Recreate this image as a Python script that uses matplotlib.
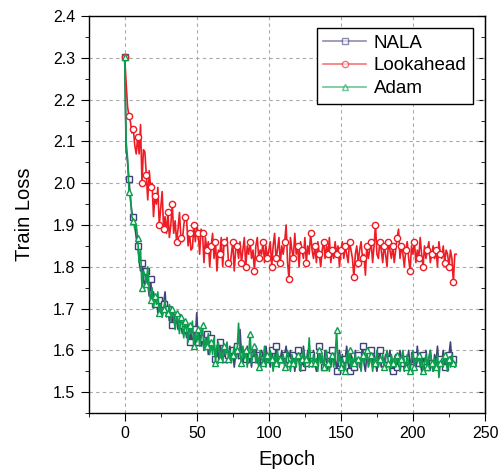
import matplotlib
matplotlib.use("Agg")
import matplotlib.pyplot as plt
from matplotlib.ticker import MultipleLocator

plt.rcParams["font.family"] = ["Liberation Sans", "DejaVu Sans"]

# train loss per epoch (epochs 0..230)
epochs = list(range(231))

nala = [
    2.302, 2.08, 2.05, 2.01, 1.96, 1.93, 1.92, 1.90, 1.87, 1.85,
    1.82, 1.79, 1.81, 1.77, 1.75, 1.79, 1.76, 1.73, 1.77, 1.72,
    1.74, 1.71, 1.73, 1.69, 1.72, 1.70, 1.68, 1.71, 1.74, 1.69,
    1.70, 1.67, 1.70, 1.66, 1.69, 1.66, 1.68, 1.65, 1.67, 1.66,
    1.64, 1.67, 1.65, 1.63, 1.66, 1.62, 1.64, 1.61, 1.65, 1.63,
    1.69, 1.62, 1.64, 1.61, 1.63, 1.60, 1.62, 1.64, 1.59, 1.61,
    1.63, 1.60, 1.62, 1.58, 1.61, 1.57, 1.62, 1.59, 1.61, 1.58,
    1.60, 1.57, 1.59, 1.61, 1.58, 1.60, 1.56, 1.59, 1.61, 1.58,
    1.65, 1.59, 1.57, 1.60, 1.58, 1.61, 1.57, 1.59, 1.56, 1.60,
    1.58, 1.61, 1.57, 1.59, 1.56, 1.60, 1.58, 1.57, 1.61, 1.58,
    1.59, 1.56, 1.60, 1.58, 1.57, 1.61, 1.59, 1.56, 1.58, 1.60,
    1.57, 1.59, 1.61, 1.56, 1.58, 1.60, 1.57, 1.59, 1.55, 1.58,
    1.60, 1.57, 1.59, 1.56, 1.61, 1.58, 1.57, 1.60, 1.56, 1.59,
    1.58, 1.60, 1.57, 1.55, 1.59, 1.61, 1.57, 1.58, 1.56, 1.60,
    1.57, 1.59, 1.58, 1.56, 1.60, 1.57, 1.59, 1.55, 1.58, 1.60,
    1.57, 1.59, 1.56, 1.58, 1.61, 1.57, 1.55, 1.59, 1.58, 1.56,
    1.60, 1.57, 1.59, 1.56, 1.58, 1.61, 1.57, 1.55, 1.59, 1.57,
    1.58, 1.60, 1.56, 1.59, 1.57, 1.55, 1.58, 1.60, 1.56, 1.58,
    1.57, 1.59, 1.56, 1.58, 1.60, 1.57, 1.55, 1.58, 1.59, 1.56,
    1.58, 1.60, 1.57, 1.59, 1.55, 1.58, 1.57, 1.60, 1.56, 1.58,
    1.57, 1.59, 1.56, 1.61, 1.57, 1.58, 1.55, 1.59, 1.57, 1.60,
    1.56, 1.58, 1.60, 1.57, 1.55, 1.59, 1.57, 1.61, 1.56, 1.58,
    1.57, 1.60, 1.56, 1.58, 1.55, 1.59, 1.62, 1.57, 1.58, 1.56,
    1.57,
]

lookahead = [
    2.302, 2.24, 2.183, 2.16, 2.147, 2.12, 2.13, 2.09, 2.07, 2.11,
    2.07, 2.14, 2.00, 2.08, 2.075, 2.02, 1.96, 2.03, 1.99, 2.00,
    1.92, 1.97, 1.95, 1.99, 1.90, 1.94, 1.98, 1.89, 1.92, 1.88,
    1.93, 1.87, 1.90, 1.95, 1.88, 1.91, 1.86, 1.89, 1.93, 1.87,
    1.86, 1.90, 1.92, 1.91, 1.85, 1.88, 1.84, 1.845, 1.90, 1.86,
    1.90, 1.88, 1.83, 1.89, 1.88, 1.81, 1.87, 1.84, 1.86, 1.80,
    1.85, 1.88, 1.82, 1.86, 1.79, 1.84, 1.83, 1.87, 1.80, 1.86,
    1.85, 1.87, 1.81, 1.80, 1.83, 1.86, 1.79, 1.84, 1.85, 1.82,
    1.86, 1.81, 1.84, 1.87, 1.80, 1.85, 1.83, 1.86, 1.82, 1.84,
    1.79, 1.85, 1.87, 1.82, 1.84, 1.83, 1.86, 1.81, 1.85, 1.82,
    1.84, 1.86, 1.80, 1.85, 1.88, 1.82, 1.84, 1.87, 1.81, 1.85,
    1.83, 1.86, 1.90, 1.81, 1.77, 1.87, 1.84, 1.82, 1.88, 1.83,
    1.85, 1.80, 1.86, 1.84, 1.82, 1.87, 1.81, 1.85, 1.83, 1.88,
    1.84, 1.82, 1.85, 1.81, 1.86, 1.83, 1.80, 1.84, 1.86, 1.82,
    1.85, 1.83, 1.87, 1.81, 1.84, 1.82, 1.86, 1.83, 1.85, 1.80,
    1.84, 1.86, 1.82, 1.85, 1.83, 1.81, 1.86, 1.84, 1.82, 1.775,
    1.83, 1.85, 1.81, 1.84, 1.86, 1.82, 1.83, 1.78, 1.85, 1.82,
    1.84, 1.86, 1.81, 1.85, 1.90, 1.83, 1.82, 1.86, 1.84, 1.81,
    1.85, 1.83, 1.80, 1.86, 1.84, 1.82, 1.85, 1.81, 1.84, 1.87,
    1.89, 1.82, 1.85, 1.83, 1.80, 1.84, 1.86, 1.82, 1.79, 1.85,
    1.83, 1.86, 1.81, 1.84, 1.82, 1.87, 1.83, 1.80, 1.85, 1.82,
    1.84, 1.86, 1.81, 1.83, 1.85, 1.82, 1.84, 1.80, 1.86, 1.83,
    1.82, 1.85, 1.81, 1.84, 1.83, 1.80, 1.84, 1.82, 1.763, 1.83,
    1.83,
]

adam = [
    2.302, 2.10, 2.06, 1.98, 1.97, 1.92, 1.91, 1.89, 1.90, 1.87,
    1.81, 1.84, 1.75, 1.79, 1.78, 1.76, 1.80, 1.74, 1.72, 1.75,
    1.70, 1.73, 1.71, 1.74, 1.69, 1.71, 1.68, 1.70, 1.72, 1.68,
    1.69, 1.71, 1.67, 1.70, 1.68, 1.65, 1.69, 1.67, 1.64, 1.68,
    1.66, 1.63, 1.67, 1.65, 1.62, 1.66, 1.64, 1.67, 1.61, 1.64,
    1.62, 1.65, 1.61, 1.63, 1.66, 1.60, 1.63, 1.61, 1.64, 1.59,
    1.62, 1.59, 1.63, 1.57, 1.61, 1.62, 1.58, 1.60, 1.57, 1.61,
    1.59, 1.62, 1.58, 1.60, 1.57, 1.59, 1.61, 1.58, 1.60, 1.665,
    1.59, 1.57, 1.61, 1.58, 1.60, 1.56, 1.59, 1.64, 1.57, 1.59,
    1.61, 1.57, 1.59, 1.56, 1.60, 1.58, 1.57, 1.61, 1.56, 1.59,
    1.57, 1.60, 1.58, 1.55, 1.59, 1.57, 1.60, 1.56, 1.58, 1.57,
    1.59, 1.56, 1.58, 1.60, 1.57, 1.55, 1.59, 1.57, 1.58, 1.56,
    1.59, 1.57, 1.55, 1.58, 1.60, 1.56, 1.58, 1.57, 1.63, 1.57,
    1.56, 1.59, 1.57, 1.58, 1.55, 1.60, 1.57, 1.59, 1.56, 1.58,
    1.60, 1.57, 1.55, 1.58, 1.59, 1.56, 1.58, 1.648, 1.57, 1.59,
    1.56, 1.58, 1.57, 1.55, 1.59, 1.57, 1.60, 1.56, 1.58, 1.57,
    1.59, 1.56, 1.58, 1.57, 1.55, 1.59, 1.57, 1.58, 1.60, 1.56,
    1.57, 1.59, 1.55, 1.58, 1.57, 1.60, 1.56, 1.58, 1.57, 1.59,
    1.56, 1.58, 1.60, 1.57, 1.55, 1.59, 1.57, 1.58, 1.56, 1.59,
    1.57, 1.55, 1.58, 1.60, 1.57, 1.56, 1.59, 1.57, 1.55, 1.58,
    1.60, 1.56, 1.58, 1.57, 1.59, 1.56, 1.58, 1.55, 1.57, 1.59,
    1.56, 1.58, 1.60, 1.57, 1.55, 1.58, 1.56, 1.59, 1.535, 1.57,
    1.58, 1.56, 1.59, 1.57, 1.55, 1.58, 1.56, 1.59, 1.57, 1.56,
    1.57,
]

series = [
    ("NALA", nala, "#42427a", "s", 4.0),
    ("Lookahead", lookahead, "#ee1c24", "o", 4.5),
    ("Adam", adam, "#0c9e4e", "^", 4.5),
]

fig = plt.figure(figsize=(4.98, 4.71), dpi=100)
ax = fig.add_axes([0.178, 0.123, 0.796, 0.843])

for name, ys, color, marker, ms in series:
    ax.plot(epochs, ys, color=color, lw=1.2, marker=marker, markevery=3,
            markersize=ms, mfc="white", mec=color, mew=1.0, label=name)

ax.set_xlim(-25, 250)
ax.set_ylim(1.45, 2.4)
ax.xaxis.set_major_locator(MultipleLocator(50))
ax.xaxis.set_minor_locator(MultipleLocator(25))
ax.set_yticks([1.5 + 0.1 * i for i in range(10)])
ax.yaxis.set_minor_locator(MultipleLocator(0.05))
ax.yaxis.set_major_formatter(plt.FormatStrFormatter("%.1f"))

ax.grid(True, which="major", ls=(0, (3, 3)), color="#aaaaaa", lw=0.8)
ax.tick_params(which="major", direction="out", length=6, labelsize=11.5,
               top=False, right=False)
ax.tick_params(which="minor", direction="out", length=3,
               top=False, right=False)
# the right spine carries short inward ticks, no labels
ax2 = ax.secondary_yaxis("right")
ax2.set_yticks([1.5 + 0.1 * i for i in range(10)])
ax2.yaxis.set_minor_locator(MultipleLocator(0.05))
ax2.tick_params(which="major", direction="in", length=5, labelright=False)
ax2.tick_params(which="minor", direction="in", length=3)
for s in ax.spines.values():
    s.set_linewidth(1.0)

ax.set_xlabel("Epoch", fontsize=14.5, labelpad=6)
ax.set_ylabel("Train Loss", fontsize=14.5, labelpad=14)

leg = ax.legend(loc="upper right", fontsize=13.5, fancybox=False,
                edgecolor="black", framealpha=1, handlelength=2.3,
                borderpad=0.35, labelspacing=0.3, handletextpad=0.4,
                borderaxespad=0, bbox_to_anchor=(0.970, 0.970))
leg.get_frame().set_linewidth(1.0)
for line in leg.get_lines():
    line.set_alpha(0.6)

fig.savefig("out.png", dpi=100)
